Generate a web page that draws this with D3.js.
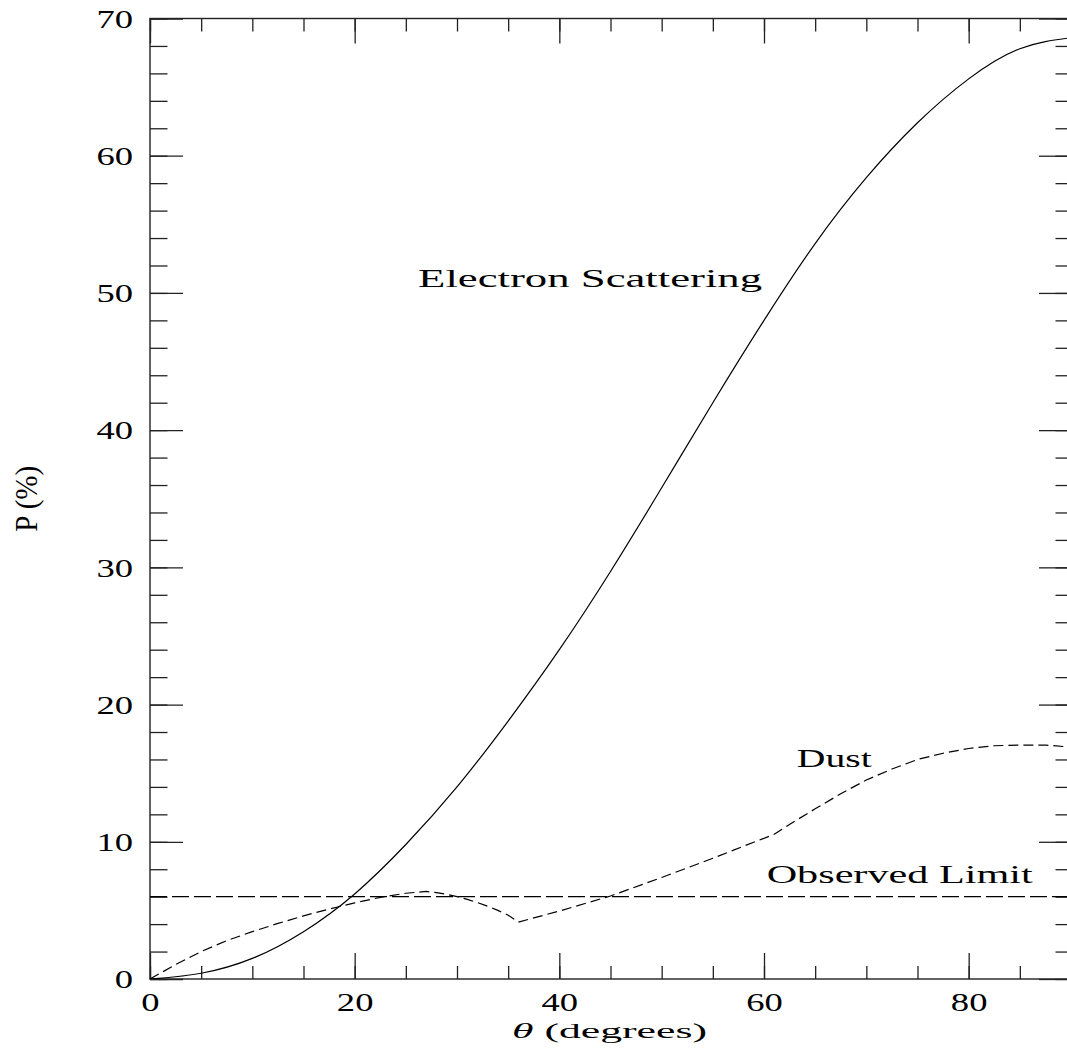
<!DOCTYPE html>
<html>
<head>
<meta charset="utf-8">
<script src="https://cdn.jsdelivr.net/npm/d3@7"></script>
<style>
  body { margin: 0; background: #fff; }
  text { font-family: "Liberation Serif", "DejaVu Serif", serif; fill: #000; }
</style>
</head>
<body>
<svg id="chart" width="1067" height="1048"></svg>
<script>
// Data
const thetaElectron = [0, 5, 10, 15, 20, 25, 30, 35, 40, 45, 50, 55, 60, 65, 70, 75, 80, 85, 90];
const pElectron = [0, 0.42, 1.5, 3.45, 6.2, 9.8, 14.0, 18.8, 24.0, 29.7, 35.8, 42.0, 48.0, 53.6, 58.4, 62.4, 65.6, 67.8, 68.6];

const thetaDust = [0, 2.5, 5, 7.5, 10, 12.5, 15, 17.5, 20, 22.5, 25, 27, 28, 29, 30, 31, 32, 33, 34, 35, 36,
                   40, 45, 50, 55, 61, 63, 65, 67.5, 70, 72.5, 75, 77.5, 80, 82.5, 85, 87.5, 90];
const pDust = [0, 1.05, 2.0, 2.8, 3.45, 4.05, 4.6, 5.1, 5.55, 5.95, 6.25, 6.38, 6.3, 6.17, 6.0, 5.8, 5.57, 5.3, 5.0, 4.65, 4.15,
               4.95, 6.05, 7.4, 8.8, 10.55, 11.5, 12.4, 13.5, 14.5, 15.3, 16.0, 16.45, 16.8, 17.0, 17.05, 17.05, 16.9];

const observedLimit = 6;

const xMajorTicks = [0, 20, 40, 60, 80];
const xMinorTicks = d3.range(0, 91, 5);
const yMajorTicks = [0, 10, 20, 30, 40, 50, 60, 70];
const yMinorTicks = d3.range(0, 71, 2);

const labels = [
  {text: "Electron Scattering", theta: 26.2, p: 50.45, len: 344},
  {text: "Dust", theta: 63.2, p: 15.47, len: 75},
  {text: "Observed Limit", theta: 60.26, p: 7.0, len: 266}
];

const margin = {left: 150, top: 18.5},
    width = 921, height = 960.5;

const svg = d3.select("#chart");

const x = d3.scaleLinear().domain([0, 90]).range([margin.left, margin.left + width]);
const y = d3.scaleLinear().domain([0, 70]).range([margin.top + height, margin.top]);

const axisColor = "#222";

// frame
svg.append("rect")
  .attr("x", x(0)).attr("y", y(70))
  .attr("width", x(90) - x(0)).attr("height", y(0) - y(70))
  .attr("fill", "none").attr("stroke", axisColor).attr("stroke-width", 1.4);

function styleAxis(g) {
  g.select(".domain").remove();
  g.selectAll(".tick line").attr("stroke", axisColor).attr("stroke-width", 1.3);
}

// minor ticks
svg.append("g").attr("transform", `translate(0,${y(0)})`)
  .call(d3.axisBottom(x).tickValues(xMinorTicks).tickSize(-13).tickFormat(""))
  .call(styleAxis);
svg.append("g").attr("transform", `translate(0,${y(70)})`)
  .call(d3.axisTop(x).tickValues(xMinorTicks).tickSize(-13).tickFormat(""))
  .call(styleAxis);
svg.append("g").attr("transform", `translate(${x(0)},0)`)
  .call(d3.axisLeft(y).tickValues(yMinorTicks).tickSize(-17.5).tickFormat(""))
  .call(styleAxis);
svg.append("g").attr("transform", `translate(${x(90)},0)`)
  .call(d3.axisRight(y).tickValues(yMinorTicks).tickSize(-15.5).tickFormat(""))
  .call(styleAxis);

// major ticks with labels
const xAxis = svg.append("g").attr("transform", `translate(0,${y(0)})`)
  .call(d3.axisBottom(x).tickValues(xMajorTicks).tickSize(-26).tickFormat(d3.format("d")))
  .call(styleAxis);
xAxis.selectAll(".tick text")
  .attr("y", 32).attr("dy", null)
  .attr("font-size", 25)
  .attr("textLength", d => String(d).length * 18.3)
  .attr("lengthAdjust", "spacingAndGlyphs");

svg.append("g").attr("transform", `translate(0,${y(70)})`)
  .call(d3.axisTop(x).tickValues(xMajorTicks).tickSize(-25).tickFormat(""))
  .call(styleAxis);

const yAxis = svg.append("g").attr("transform", `translate(${x(0)},0)`)
  .call(d3.axisLeft(y).tickValues(yMajorTicks).tickSize(-33).tickFormat(d3.format("d")))
  .call(styleAxis);
yAxis.selectAll(".tick text")
  .attr("x", -17).attr("dy", "0.34em")
  .attr("font-size", 26)
  .attr("textLength", d => String(d).length * 18.3)
  .attr("lengthAdjust", "spacingAndGlyphs");

svg.append("g").attr("transform", `translate(${x(90)},0)`)
  .call(d3.axisRight(y).tickValues(yMajorTicks).tickSize(-32).tickFormat(""))
  .call(styleAxis);

// clip for curves
svg.append("clipPath").attr("id", "plotclip")
  .append("rect").attr("x", x(0)).attr("y", y(70))
  .attr("width", x(90) - x(0)).attr("height", y(0) - y(70));

const plot = svg.append("g").attr("clip-path", "url(#plotclip)");

// Electron scattering (solid)
const electron = thetaElectron.map((t, i) => [t, pElectron[i]]);
plot.append("path")
  .datum(electron)
  .attr("fill", "none").attr("stroke", "#000").attr("stroke-width", 1.2)
  .attr("d", d3.line().x(d => x(d[0])).y(d => y(d[1])).curve(d3.curveNatural));

// Dust (short dashes)
const dust = thetaDust.map((t, i) => [t, pDust[i]]);
plot.append("path")
  .datum(dust)
  .attr("fill", "none").attr("stroke", "#000").attr("stroke-width", 1.2)
  .attr("stroke-dasharray", "10,5")
  .attr("d", d3.line().x(d => x(d[0])).y(d => y(d[1])));

// Observed limit (long dashes)
plot.append("line")
  .attr("x1", x(0)).attr("x2", x(90))
  .attr("y1", y(observedLimit)).attr("y2", y(observedLimit))
  .attr("stroke", "#000").attr("stroke-width", 1.2)
  .attr("stroke-dasharray", "17,5");

// curve labels
svg.selectAll(".curve-label")
  .data(labels)
  .enter().append("text")
  .attr("class", "curve-label")
  .attr("x", d => x(d.theta))
  .attr("y", d => y(d.p))
  .attr("font-size", 25)
  .attr("textLength", d => d.len)
  .attr("lengthAdjust", "spacingAndGlyphs")
  .text(d => d.text);

// axis titles
const xTitle = svg.append("text")
  .attr("x", 512).attr("y", 1038)
  .attr("font-size", 22)
  .attr("textLength", 195)
  .attr("lengthAdjust", "spacingAndGlyphs");
xTitle.append("tspan").attr("font-style", "italic").text("θ");
xTitle.append("tspan").text(" (degrees)");

svg.append("text")
  .attr("transform", `translate(37,${(y(0) + y(70)) / 2}) rotate(-90)`)
  .attr("text-anchor", "middle")
  .attr("font-size", 32)
  .attr("textLength", 66)
  .attr("lengthAdjust", "spacingAndGlyphs")
  .text("P (%)");
</script>
</body>
</html>
